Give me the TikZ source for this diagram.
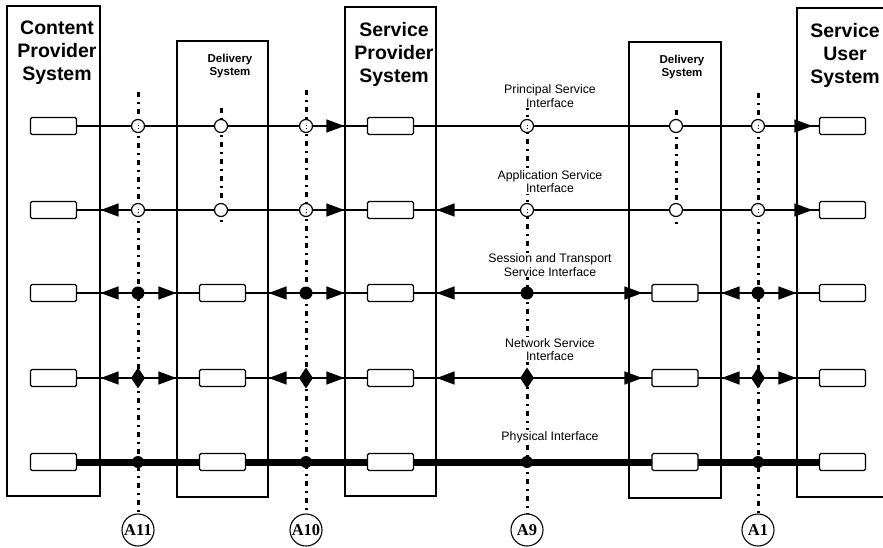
\documentclass[tikz,border=0pt]{standalone}
\usepackage{fontspec}
\setmainfont{Liberation Sans}
\newfontfamily\serifA{Liberation Serif}
\usetikzlibrary{arrows.meta,shapes.geometric,calc}
\pgfdeclarelayer{bg}
\pgfsetlayers{bg,main}
\begin{document}
\begin{tikzpicture}[x=1pt,y=-1pt,
 sysbox/.style={draw,line width=1.2pt,inner sep=0pt},
 smallbox/.style={draw,fill=white,rounded corners=1.5pt,minimum width=46pt,minimum height=17pt,inner sep=0pt,line width=1.1pt},
 title/.style={font=\bfseries\fontsize{19.5}{23}\selectfont,align=center,inner sep=0pt},
 dtitle/.style={font=\bfseries\fontsize{11.5}{13}\selectfont,align=center,inner sep=0pt},
 iflabel/.style={font=\fontsize{12.3}{13.5}\selectfont,align=center,fill=white,inner sep=1pt},
 acirc/.style={draw,circle,line width=1.1pt,minimum size=32pt,inner sep=0pt,font=\serifA\bfseries\fontsize{16.5}{16.5}\selectfont},
 vline/.style={line width=3pt,dash pattern=on 5pt off 5pt on 1.5pt off 5.5pt},
 ocirc/.style={draw,circle,fill=white,line width=1.2pt,minimum size=13pt,inner sep=0pt},
 fcirc/.style={circle,fill=black,minimum size=13pt,inner sep=0pt},
 fdiam/.style={diamond,fill=black,minimum width=14pt,minimum height=21pt,inner sep=0pt},
 arr/.style={-{Triangle[length=18pt,width=13pt]},line width=1.5pt},
 rowA/.style={line width=1.3pt},
 rowB/.style={line width=1.5pt},
 rowC/.style={line width=2pt},
 rowD/.style={line width=7pt}
]
\useasboundingbox (0,0) rectangle (883,547);
\clip (0,0) rectangle (883,547);

% system boxes
\node[sysbox,minimum width=93pt,minimum height=490pt] (cp) at (53.5,251) {};
\node[sysbox,minimum width=91pt,minimum height=456pt] (d1) at (222.5,269) {};
\node[sysbox,minimum width=91pt,minimum height=489pt] (sp) at (390.5,251.5) {};
\node[sysbox,minimum width=92pt,minimum height=456pt] (d2) at (675,270) {};
\node[sysbox,minimum width=103pt,minimum height=489pt] (su) at (848.5,252.5) {};

% titles
\node[title] (tcp) at (57,53) {Content\\Provider\\System};
\node[title] (tsp) at (394,54) {Service\\Provider\\System};
\node[title] (tsu) at (845,55) {Service\\User\\System};
\node[dtitle] (td1) at (230,66) {Delivery\\System};
\node[dtitle] (td2) at (682,67) {Delivery\\System};

% small boxes
\foreach \r/\y in {1/126,2/210,3/293,4/378,5/462}{
  \node[smallbox] (cpb\r) at (53.5,\y) {};
  \node[smallbox] (spb\r) at (390.5,\y) {};
  \node[smallbox] (sub\r) at (842.5,\y) {};
}
\foreach \r/\y in {3/293,4/378,5/462}{
  \node[smallbox] (d1b\r) at (222.5,\y) {};
  \node[smallbox] (d2b\r) at (675,\y) {};
}

% interface labels
\node[iflabel] (l1) at (550,96) {Principal Service\\Interface};
\node[iflabel] (l2) at (550,181.5) {Application Service\\Interface};
\node[iflabel] (l3) at (550,265) {Session and Transport\\Service Interface};
\node[iflabel] (l4) at (550,349.5) {Network Service\\Interface};
\node[iflabel] (l5) at (550,437) {Physical Interface};

% reference point circles
\node[acirc] (A11) at (138,530) {A11};
\node[acirc] (A10) at (306,530) {A10};
\node[acirc] (A9) at (527,530) {A9};
\node[acirc] (A1) at (758,530) {A1};

% column tops
\coordinate (A11t) at (138,92);
\coordinate (A10t) at (306,90);
\coordinate (A1t) at (758,93);
\coordinate (A9t) at (527,105);
\coordinate (D1t) at (221,108);
\coordinate (D1e) at (221,226);
\coordinate (D2t) at (676,110);
\coordinate (D2e) at (676,226);

% markers
\foreach \r in {1,2}{
  \foreach \c in {A11,A10,A9,A1}{
    \node[ocirc] (o\r\c) at (\c |- cpb\r) {};
    \draw[line width=0.8pt,dash pattern=on 1.2pt off 1.8pt] ([yshift=-3pt]o\r\c.center) -- ([yshift=3pt]o\r\c.center);
  }
  \node[ocirc] (o\r D1) at (D1t |- cpb\r) {};
  \node[ocirc] (o\r D2) at (D2t |- cpb\r) {};
}
\foreach \c in {A11,A10,A9,A1}{
  \node[fcirc] (f3\c) at (\c |- cpb3) {};
  \node[fdiam] (f4\c) at (\c |- cpb4) {};
  \node[fcirc,minimum size=12pt] (f5\c) at (\c |- cpb5) {};
}

% arrowheads
% row 1
\draw[arr] ([xshift=-18pt]sp.west |- spb1) -- (sp.west |- spb1);
\draw[arr] ([xshift=-2pt]su.west |- sub1) -- ([xshift=16pt]su.west |- sub1);
% row 2
\draw[arr] ([xshift=18pt]cp.east |- cpb2) -- (cp.east |- cpb2);
\draw[arr] ([xshift=-18pt]sp.west |- spb2) -- (sp.west |- spb2);
\draw[arr] ([xshift=18pt]sp.east |- spb2) -- (sp.east |- spb2);
\draw[arr] ([xshift=-2pt]su.west |- sub2) -- ([xshift=16pt]su.west |- sub2);
% rows 3 and 4
\foreach \r in {3,4}{
  \draw[arr] ([xshift=18pt]cp.east |- cpb\r) -- (cp.east |- cpb\r);
  \draw[arr] ([xshift=-18pt]d1.west |- cpb\r) -- (d1.west |- cpb\r);
  \draw[arr] ([xshift=18pt]d1.east |- cpb\r) -- (d1.east |- cpb\r);
  \draw[arr] ([xshift=-18pt]sp.west |- cpb\r) -- (sp.west |- cpb\r);
  \draw[arr] ([xshift=18pt]sp.east |- cpb\r) -- (sp.east |- cpb\r);
  \draw[arr] ([xshift=-4pt]d2.west |- cpb\r) -- ([xshift=14pt]d2.west |- cpb\r);
  \draw[arr] ([xshift=18pt]d2.east |- cpb\r) -- (d2.east |- cpb\r);
  \draw[arr] ([xshift=-18pt]su.west |- cpb\r) -- (su.west |- cpb\r);
}

\begin{pgfonlayer}{bg}
  % vertical reference lines
  \draw[vline] (A11t) -- (A11.north);
  \draw[vline] (A10t) -- (A10.north);
  \draw[vline] (A9t) -- (A9.north);
  \draw[vline] (A1t) -- (A1.north);
  \draw[vline] (D1t) -- (D1e);
  \draw[vline] (D2t) -- (D2e);
  % row lines
  \draw[rowA] (cpb1) -- (sub1);
  \draw[rowB] (cpb2) -- (sub2);
  \draw[rowC] (cpb3) -- (sub3);
  \draw[rowC] (cpb4) -- (sub4);
  \draw[rowD] (cpb5) -- (sub5);
\end{pgfonlayer}
\end{tikzpicture}
\end{document}
